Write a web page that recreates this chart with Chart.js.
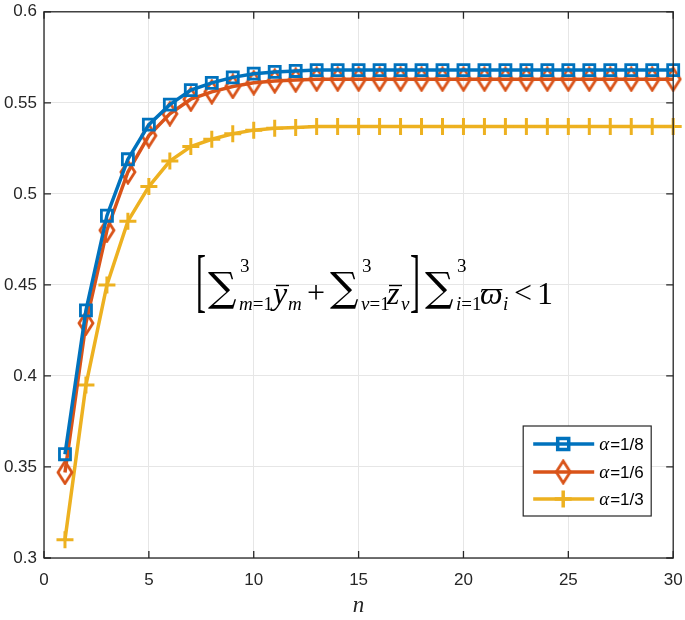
<!DOCTYPE html>
<html>
<head>
<meta charset="utf-8">
<script src="https://cdn.jsdelivr.net/npm/chart.js@4.4.1/dist/chart.umd.min.js"></script>
<style>
  html, body { margin: 0; padding: 0; background: #fff; }
  #wrap { width: 685px; height: 620px; position: relative; }
</style>
</head>
<body>
<div id="wrap"><canvas id="chart"></canvas></div>
<script>
// n = 1..30
const nValues = [1, 2, 3, 4, 5, 6, 7, 8, 9, 10, 11, 12, 13, 14, 15,
  16, 17, 18, 19, 20, 21, 22, 23, 24, 25, 26, 27, 28, 29, 30];

// alpha = 1/8
const alpha8 = [0.357, 0.436, 0.488, 0.519, 0.538, 0.549, 0.557, 0.561, 0.564, 0.566,
  0.567, 0.5675, 0.568, 0.568, 0.568, 0.568, 0.568, 0.568, 0.568, 0.568,
  0.568, 0.568, 0.568, 0.568, 0.568, 0.568, 0.568, 0.568, 0.568, 0.568];
// alpha = 1/6
const alpha6 = [0.347, 0.429, 0.480, 0.512, 0.532, 0.544, 0.552, 0.556, 0.559, 0.561,
  0.562, 0.5625, 0.563, 0.563, 0.563, 0.563, 0.563, 0.563, 0.563, 0.563,
  0.563, 0.563, 0.563, 0.563, 0.563, 0.563, 0.563, 0.563, 0.563, 0.563];
// alpha = 1/3
const alpha3 = [0.310, 0.395, 0.450, 0.485, 0.504, 0.518, 0.526, 0.530, 0.533, 0.535,
  0.536, 0.5365, 0.537, 0.537, 0.537, 0.537, 0.537, 0.537, 0.537, 0.537,
  0.537, 0.537, 0.537, 0.537, 0.537, 0.537, 0.537, 0.537, 0.537, 0.537];

const seriesNames = ['1/8', '1/6', '1/3'];
const seriesColors = ['#0072BD', '#D95319', '#EDB120'];

const xTicks = [0, 5, 10, 15, 20, 25, 30];
const yTicks = [0.3, 0.35, 0.4, 0.45, 0.5, 0.55, 0.6];
const yTickLabels = ['0.3', '0.35', '0.4', '0.45', '0.5', '0.55', '0.6'];

const tickFont = { family: 'Liberation Sans', size: 17 };
const axisColor = '#262626';

// tall MATLAB-like diamond marker
function makeDiamond(color) {
  const c = document.createElement('canvas');
  c.width = 18; c.height = 26;
  const g = c.getContext('2d');
  g.strokeStyle = color;
  g.lineWidth = 2.8;
  g.beginPath();
  g.moveTo(9, 2); g.lineTo(16, 13); g.lineTo(9, 24); g.lineTo(2, 13);
  g.closePath();
  g.stroke();
  return c;
}
const diamond = makeDiamond(seriesColors[1]);

function pts(arr) {
  return nValues.map((n, i) => ({ x: n, y: arr[i] }));
}

const datasets = [
  { label: seriesNames[0], data: pts(alpha8), borderColor: seriesColors[0],
    pointStyle: 'rect', pointRadius: 7.8, pointBorderWidth: 2.8 },
  { label: seriesNames[1], data: pts(alpha6), borderColor: seriesColors[1],
    pointStyle: diamond, pointRadius: 9, pointBorderWidth: 2.8 },
  { label: seriesNames[2], data: pts(alpha3), borderColor: seriesColors[2],
    pointStyle: 'cross', pointRadius: 8.5, pointBorderWidth: 3 },
];
datasets.forEach(d => {
  d.borderWidth = 3.5;
  d.tension = 0;
  d.clip = false;
  d.pointBackgroundColor = 'rgba(0,0,0,0)';
  d.pointBorderColor = d.borderColor;
});

// axes box + inward ticks
const boxPlugin = {
  id: 'box',
  afterDatasetsDraw(chart) {
    const { ctx, chartArea: a, scales: { x, y } } = chart;
    ctx.save();
    ctx.strokeStyle = axisColor;
    ctx.lineWidth = 1.3;
    ctx.strokeRect(a.left, a.top, a.right - a.left, a.bottom - a.top);
    const t = 7;
    ctx.beginPath();
    xTicks.forEach(v => {
      const px = x.getPixelForValue(v);
      ctx.moveTo(px, a.bottom); ctx.lineTo(px, a.bottom - t);
      ctx.moveTo(px, a.top); ctx.lineTo(px, a.top + t);
    });
    yTicks.forEach(v => {
      const py = y.getPixelForValue(v);
      ctx.moveTo(a.left, py); ctx.lineTo(a.left + t, py);
      ctx.moveTo(a.right, py); ctx.lineTo(a.right - t, py);
    });
    ctx.stroke();
    ctx.restore();
  }
};

// legend drawn like MATLAB's (line + marker sample)
const legendPlugin = {
  id: 'matlabLegend',
  afterDraw(chart) {
    const { ctx, chartArea: a } = chart;
    const right = a.right - 22, bottom = a.bottom - 42;
    const w = 128, h = 90;
    const left = right - w, top = bottom - h;
    ctx.save();
    ctx.fillStyle = '#fff';
    ctx.fillRect(left, top, w, h);
    ctx.strokeStyle = axisColor;
    ctx.lineWidth = 1.2;
    ctx.strokeRect(left, top, w, h);
    const rows = [top + 18, top + 46, top + 73];
    chart.data.datasets.forEach((ds, i) => {
      const yy = rows[i];
      ctx.strokeStyle = ds.borderColor;
      ctx.lineWidth = 3.5;
      ctx.beginPath();
      ctx.moveTo(left + 10, yy); ctx.lineTo(left + 71, yy);
      ctx.stroke();
      ctx.fillStyle = 'rgba(0,0,0,0)';
      Chart.helpers.drawPoint(ctx, {
        pointStyle: ds.pointStyle, radius: ds.pointRadius,
        borderWidth: ds.pointBorderWidth, rotation: 0
      }, left + 40, yy);
      ctx.fillStyle = '#000';
      ctx.textBaseline = 'alphabetic';
      ctx.font = 'italic 19px "Liberation Serif"';
      ctx.fillText('\u03b1', left + 76, yy + 6);
      const aw = ctx.measureText('\u03b1').width;
      ctx.font = '17px "Liberation Sans"';
      ctx.fillText('=' + ds.label, left + 76 + aw + 1, yy + 6);
    });
    ctx.restore();
  }
};

// annotation: [ sum y_m + sum z_v ] sum w_i < 1
const formulaPlugin = {
  id: 'formula',
  afterDraw(chart) {
    const { ctx, chartArea: a } = chart;
    const ox = a.left - 44, oy = a.top - 6;
    const base = oy + 298, supY = oy + 266, subY = oy + 304;
    const F = 32, S = 19;
    const rm = px => px + 'px "Liberation Serif"';
    const it = px => 'italic ' + px + 'px "Liberation Serif"';
    const sumFont = '40px "DejaVu Serif"';
    ctx.save();
    ctx.fillStyle = '#000';
    ctx.textBaseline = 'alphabetic';
    const txt = (s, x, y, f) => { ctx.font = f; ctx.fillText(s, ox + x, y); return ctx.measureText(s).width; };
    const bracket = (s, x) => {
      ctx.save();
      ctx.font = rm(30);
      ctx.textBaseline = 'middle';
      ctx.translate(ox + x, oy + 280);
      ctx.scale(1, 2.3);
      ctx.fillText(s, 0, 0);
      ctx.restore();
    };
    const bar = (x, w) => { ctx.fillRect(ox + x, oy + 279, w, 1.4); };
    const sub3 = (x, lower) => {
      txt('3', x + 1, supY, rm(S));
      let cx = x;
      cx += txt(lower[0], cx, subY, it(S));
      cx += txt('=1', cx, subY, rm(S));
    };

    bracket('[', 196);
    txt('\u2211', 208, base - 3, sumFont);
    sub3(239, 'm');
    txt('y', 273, base, it(F));
    bar(276, 13);
    txt('m', 288, subY, it(S));
    txt('+', 307, base - 1, rm(F));
    txt('\u2211', 330, base - 3, sumFont);
    sub3(361, 'v');
    txt('z', 387, base, it(F));
    bar(389, 13);
    txt('v', 401, subY, it(S));
    bracket(']', 410);
    txt('\u2211', 425, base - 3, sumFont);
    sub3(456, 'i');
    txt('\u03d6', 480, base, it(F));
    txt('i', 503, subY, it(S));
    txt('<', 514, base - 1, rm(F));
    txt('1', 537, base, rm(F));
    ctx.restore();
  }
};

new Chart(document.getElementById('chart'), {
  type: 'line',
  data: { datasets },
  options: {
    responsive: true,
    maintainAspectRatio: false,
    animation: false,
    layout: { padding: { top: 6, right: 9, left: 0, bottom: 0 } },
    plugins: { legend: { display: false }, tooltip: { enabled: false } },
    scales: {
      x: {
        type: 'linear', min: 0, max: 30,
        afterBuildTicks: s => { s.ticks = xTicks.map(v => ({ value: v })); },
        afterFit: s => { s.height = 62; s.paddingLeft = 0; s.paddingRight = 0; },
        grid: { color: '#e6e6e6', lineWidth: 1, drawTicks: false },
        border: { display: false },
        ticks: { font: tickFont, color: axisColor, padding: 12, maxRotation: 0 },
        title: { display: true, text: 'n', color: axisColor,
          font: { family: 'Liberation Serif', style: 'italic', size: 23 },
          padding: { top: 0, bottom: 0 } }
      },
      y: {
        type: 'linear', min: 0.3, max: 0.6,
        afterBuildTicks: s => { s.ticks = yTicks.map(v => ({ value: v })); },
        afterFit: s => { s.width = 44; s.paddingTop = 0; s.paddingBottom = 0; },
        grid: { color: '#e6e6e6', lineWidth: 1, drawTicks: false },
        border: { display: false },
        ticks: { font: tickFont, color: axisColor, padding: 7,
          callback: (v, i) => yTickLabels[i] }
      }
    }
  },
  plugins: [boxPlugin, formulaPlugin, legendPlugin]
});
</script>
</body>
</html>
